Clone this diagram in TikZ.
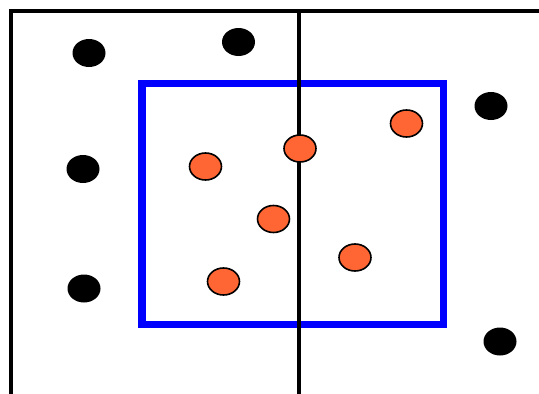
\documentclass[tikz,border=0pt]{standalone}
\usetikzlibrary{shapes.geometric}
\definecolor{dotorange}{HTML}{FF6633}
\begin{document}
\begin{tikzpicture}[x=1pt,y=-1pt,
  blackdot/.style={ellipse,fill=black,minimum width=33pt,minimum height=28pt,inner sep=0pt},
  orangedot/.style={ellipse,draw=black,line width=1.6pt,fill=dotorange,minimum width=32pt,minimum height=27pt,inner sep=0pt},
  divline/.style={line width=4pt,black},
  window/.style={line width=7.5pt,draw={rgb,255:red,0;green,0;blue,255}}]
\useasboundingbox (0,0) rectangle (539,394);
\clip (0,0) rectangle (539,394);
% dividing lines
\coordinate (tl) at (11,11);
\coordinate (tr) at (545,11);
\coordinate (bl) at (11,400);
\coordinate (mt) at (298.5,11);
\coordinate (mb) at (298.5,400);
\draw[divline] (bl) -- (tl) -- (tr);
% blue window
\draw[window] (142,83.5) rectangle (443.5,324.5);
\draw[divline] (mt) -- (mb);
% black points
\node[blackdot] (b1) at (89,53) {};
\node[blackdot] (b2) at (238.5,42) {};
\node[blackdot] (b3) at (491,106) {};
\node[blackdot] (b4) at (83,169) {};
\node[blackdot] (b5) at (84,288.5) {};
\node[blackdot] (b6) at (500,341.5) {};
% orange points
\node[orangedot] (o1) at (406.5,123.5) {};
\node[orangedot] (o2) at (300,148.5) {};
\node[orangedot] (o3) at (205.5,166.5) {};
\node[orangedot] (o4) at (273.5,219) {};
\node[orangedot] (o5) at (355,257.5) {};
\node[orangedot] (o6) at (223.5,281.5) {};
\end{tikzpicture}
\end{document}
